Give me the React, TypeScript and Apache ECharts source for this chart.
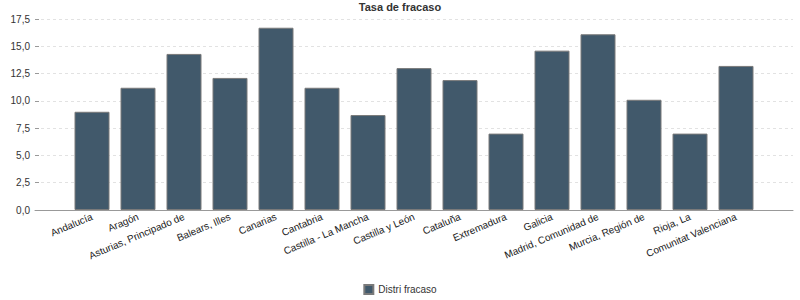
import React, { useEffect, useRef } from "react";
import * as echarts from "echarts";

const categories = [
  "Andalucía",
  "Aragón",
  "Asturias, Principado de",
  "Balears, Illes",
  "Canarias",
  "Cantabria",
  "Castilla - La Mancha",
  "Castilla y León",
  "Cataluña",
  "Extremadura",
  "Galicia",
  "Madrid, Comunidad de",
  "Murcia, Región de",
  "Rioja, La",
  "Comunitat Valenciana",
];
const values = [9.0, 11.2, 14.3, 12.1, 16.7, 11.2, 8.7, 13.0, 11.9, 7.0, 14.6, 16.1, 10.1, 7.0, 13.2];
const seriesName = "Distri fracaso";
const titleText = "Tasa de fracaso";
const yMin = 0;
const yMax = 17.5;
const yStep = 2.5;

export default function App() {
  const ref = useRef<HTMLDivElement>(null);
  useEffect(() => {
    if (!ref.current) return;
    const chart = echarts.init(ref.current, null, { renderer: "svg" });
    const font = "Arial, 'Liberation Sans', sans-serif";
    chart.setOption({
      animation: false,
      backgroundColor: "#fff",
      title: {
        text: titleText,
        left: "center",
        top: 1,
        padding: 0,
        textStyle: { fontSize: 11, fontWeight: "bold", color: "#333", fontFamily: font },
      },
      legend: {
        data: [seriesName],
        top: 284,
        left: "center",
        padding: 0,
        itemWidth: 9,
        itemHeight: 9,
        itemGap: 5,
        textStyle: { fontSize: 10, color: "#333", fontFamily: font },
        icon: "rect",
      },
      grid: [
        { left: 35, right: 7, top: 19, bottom: 90, containLabel: false, outerBoundsMode: "none" },
        { left: 69, right: 41, top: 19, bottom: 90, containLabel: false, outerBoundsMode: "none" },
      ],
      xAxis: [
        {
          type: "value",
          gridIndex: 0,
          min: 0,
          max: 1,
          axisLine: { show: true, lineStyle: { color: "#999", width: 1 } },
          axisTick: { show: false },
          axisLabel: { show: false },
          splitLine: { show: false },
        },
        {
          type: "category",
          gridIndex: 1,
          data: categories,
          axisLine: { show: false },
          axisTick: { show: false },
          axisLabel: {
            interval: 0,
            rotate: 23,
            margin: 6,
            fontSize: 10,
            color: "#222",
            fontFamily: font,
          },
        },
      ],
      yAxis: [
        {
          type: "value",
          gridIndex: 0,
          min: yMin,
          max: yMax,
          interval: yStep,
          axisLine: { show: false },
          axisTick: { show: true, inside: true, length: 4, lineStyle: { color: "#999" } },
          axisLabel: {
            fontSize: 10,
            color: "#333",
            margin: 5,
            fontFamily: font,
            formatter: (v: number) => v.toFixed(1).replace(".", ","),
          },
          splitLine: { show: true, lineStyle: { color: "#e2e2e2", type: [3, 3], width: 1 } },
        },
        {
          type: "value",
          gridIndex: 1,
          min: yMin,
          max: yMax,
          interval: yStep,
          show: false,
          splitLine: { show: false },
        },
      ],
      series: [
        {
          name: seriesName,
          type: "bar",
          xAxisIndex: 1,
          yAxisIndex: 1,
          data: values,
          barWidth: 35,
          itemStyle: { color: "#41596b", borderColor: "#7a7a7a", borderWidth: 1 },
        },
      ],
    });
    return () => chart.dispose();
  }, []);
  return <div ref={ref} style={{ width: 800, height: 300, position: "absolute", left: 0, top: 0 }} />;
}
